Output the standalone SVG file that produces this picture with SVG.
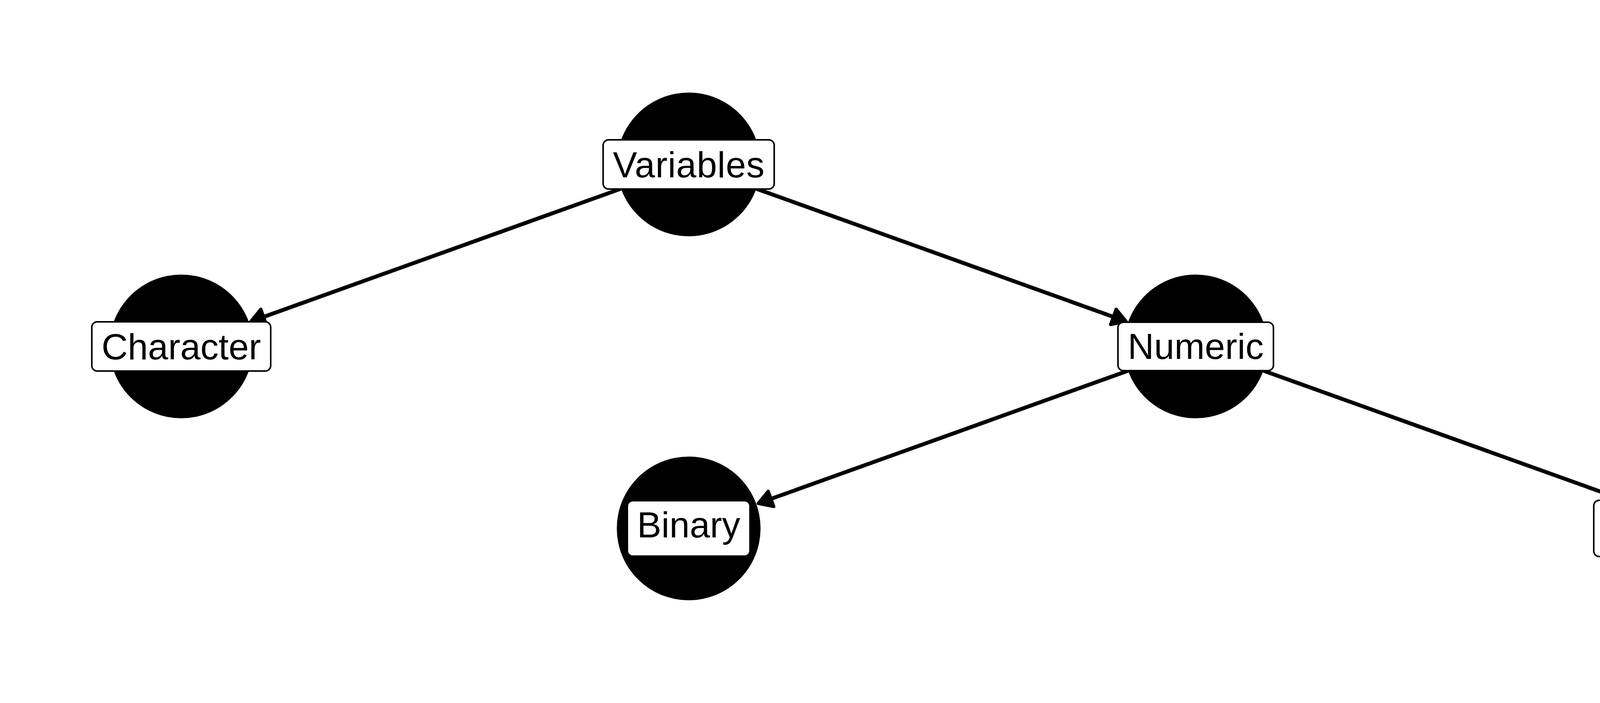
<svg xmlns="http://www.w3.org/2000/svg" width="4800" height="1800" viewBox="0 0 4800 1800">
  <style>
    .edge { stroke: #000; stroke-width: 10; fill: none; }
    .head { fill: #000; stroke: #000; stroke-width: 8; stroke-linejoin: round; }
    .dot { fill: #000; }
    .box { fill: #fff; stroke: #000; stroke-width: 4; }
    .lbl { font-family: "Liberation Sans", Arial, sans-serif; font-size: 93px; fill: #000; text-anchor: middle; }
  </style>
  <rect x="0" y="0" width="4800" height="1800" fill="#fff"/>
  <g id="connectors">
    <line class="edge" x1="1589.8" y1="483.1" x2="665.44" y2="814.77"/>
    <polygon class="head" points="641.9,823.2 667.76,791.62 681.94,831.16"/>
    <line class="edge" x1="1936.2" y1="483.2" x2="2859.56" y2="814.66"/>
    <polygon class="head" points="2883.09,823.11 2843.05,831.04 2857.25,791.52"/>
    <line class="edge" x1="2887.8" y1="949.2" x2="1964.44" y2="1280.66"/>
    <polygon class="head" points="1940.91,1289.11 1966.75,1257.52 1980.95,1297.04"/>
    <line class="edge" x1="3234.2" y1="949.1" x2="4158.56" y2="1280.77"/>
    <polygon class="head" points="4182.09,1289.21 4142.06,1297.16 4156.24,1257.62"/>
  </g>
  <g id="node-variables">
    <circle class="dot" cx="1763" cy="421" r="184"/>
    <rect class="box" x="1544" y="358" width="438" height="126" rx="14" ry="14"/>
    <text class="lbl" x="1763" y="454" textLength="388">Variables</text>
  </g>
  <g id="node-character">
    <circle class="dot" cx="464" cy="887" r="184"/>
    <rect class="box" x="235" y="824" width="458" height="126" rx="14" ry="14"/>
    <text class="lbl" x="464" y="920" textLength="408">Character</text>
  </g>
  <g id="node-numeric">
    <circle class="dot" cx="3061" cy="887" r="184"/>
    <rect class="box" x="2862" y="825" width="398" height="124" rx="14" ry="14"/>
    <text class="lbl" x="3061" y="919" textLength="348">Numeric</text>
  </g>
  <g id="node-binary">
    <circle class="dot" cx="1763" cy="1353" r="184"/>
    <rect class="box" x="1606" y="1282" width="314" height="142" rx="14" ry="14"/>
    <text class="lbl" x="1763" y="1376" textLength="264">Binary</text>
  </g>
  <g id="node-nonbinary">
    <circle class="dot" cx="4360" cy="1353" r="184"/>
    <rect class="box" x="4080" y="1281" width="560" height="144" rx="14" ry="14"/>
    <text class="lbl" x="4360" y="1376" textLength="505">Non – binary</text>
  </g>
</svg>
